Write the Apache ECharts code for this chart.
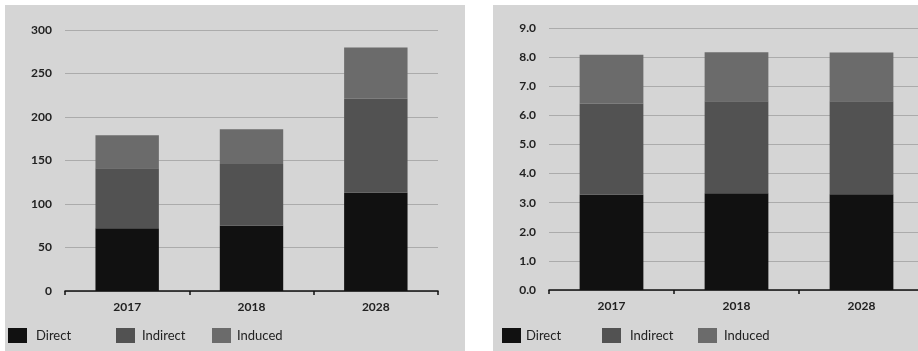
<!DOCTYPE html>
<html>
<head>
<meta charset="utf-8">
<script src="https://cdn.jsdelivr.net/npm/echarts@6/dist/echarts.min.js"></script>
<style>
    html, body {margin: 0; padding: 0; background: #fff; width: 918px; height: 351px; overflow: hidden; position: relative;}
    .panel {position: absolute; top: 5px; height: 346px; background: #d5d5d5;}
</style>
</head>
<body>
<div id="leftChart" class="panel" style="left:5px;width:460px;"></div>
<div id="rightChart" class="panel" style="left:493px;width:437px;"></div>
<script>
    // data
    const years = ['2017', '2018', '2028'];
    const seriesNames = ['Direct', 'Indirect', 'Induced'];
    const colors = ['#111111', '#525252', '#6b6b6b'];

    // left chart values
    const leftDirect = [72, 75, 113];
    const leftIndirect = [69, 71, 108];
    const leftInduced = [38, 40, 59];

    // right chart values
    const rightDirect = [3.27, 3.32, 3.29];
    const rightIndirect = [3.13, 3.16, 3.19];
    const rightInduced = [1.68, 1.69, 1.68];

    const font = 'Lato, "Open Sans", sans-serif';

    function makeSeries(arrs) {
        return arrs.map((data, i) => {
            return {
                name: seriesNames[i],
                type: 'bar',
                stack: 'total',
                barWidth: '51%',
                itemStyle: {color: colors[i]},
                data: data
            };
        });
    }

    // one legend per item so the uneven spacing of the original can be kept
    function makeLegends(lefts, gaps) {
        return seriesNames.map((name, i) => {
            return {
                data: [name],
                left: lefts[i],
                top: 323,
                padding: 0,
                itemWidth: 19,
                itemHeight: 15,
                itemGap: 0,
                icon: 'rect',
                textStyle: {
                    color: '#222',
                    fontSize: 13,
                    fontFamily: font,
                    padding: [0, 0, 0, gaps[i]]
                }
            };
        });
    }

    function makeOption(grid, yMax, yInterval, fmt, arrs, legLefts, legGaps) {
        return {
            animation: false,
            grid: grid,
            legend: makeLegends(legLefts, legGaps),
            xAxis: {
                type: 'category',
                data: years,
                axisLine: {lineStyle: {color: '#111', width: 1.5}},
                axisTick: {show: true, length: 4, lineStyle: {color: '#111', width: 1.5}},
                axisLabel: {
                    color: '#222',
                    fontSize: 12,
                    fontWeight: 'bold',
                    fontFamily: font,
                    margin: 10
                }
            },
            yAxis: {
                type: 'value',
                min: 0,
                max: yMax,
                interval: yInterval,
                axisLine: {show: false},
                axisTick: {show: false},
                axisLabel: {
                    color: '#222',
                    fontSize: 12,
                    fontWeight: 'bold',
                    fontFamily: font,
                    margin: 13,
                    formatter: fmt
                },
                splitLine: {lineStyle: {color: '#ababab', width: 1}}
            },
            series: makeSeries(arrs)
        };
    }

    const leftChart = echarts.init(document.getElementById('leftChart'));
    leftChart.setOption(makeOption(
        {left: 60, right: 27, top: 25, bottom: 60},
        300, 50,
        (v) => String(v),
        [leftDirect, leftIndirect, leftInduced],
        [3, 111, 207],
        [4, 2, 1]
    ));

    const rightChart = echarts.init(document.getElementById('rightChart'));
    rightChart.setOption(makeOption(
        {left: 56, right: 6, top: 23, bottom: 61},
        9, 1,
        (v) => v.toFixed(1),
        [rightDirect, rightIndirect, rightInduced],
        [9, 109, 205],
        [0, 4, 2]
    ));
</script>
</body>
</html>
